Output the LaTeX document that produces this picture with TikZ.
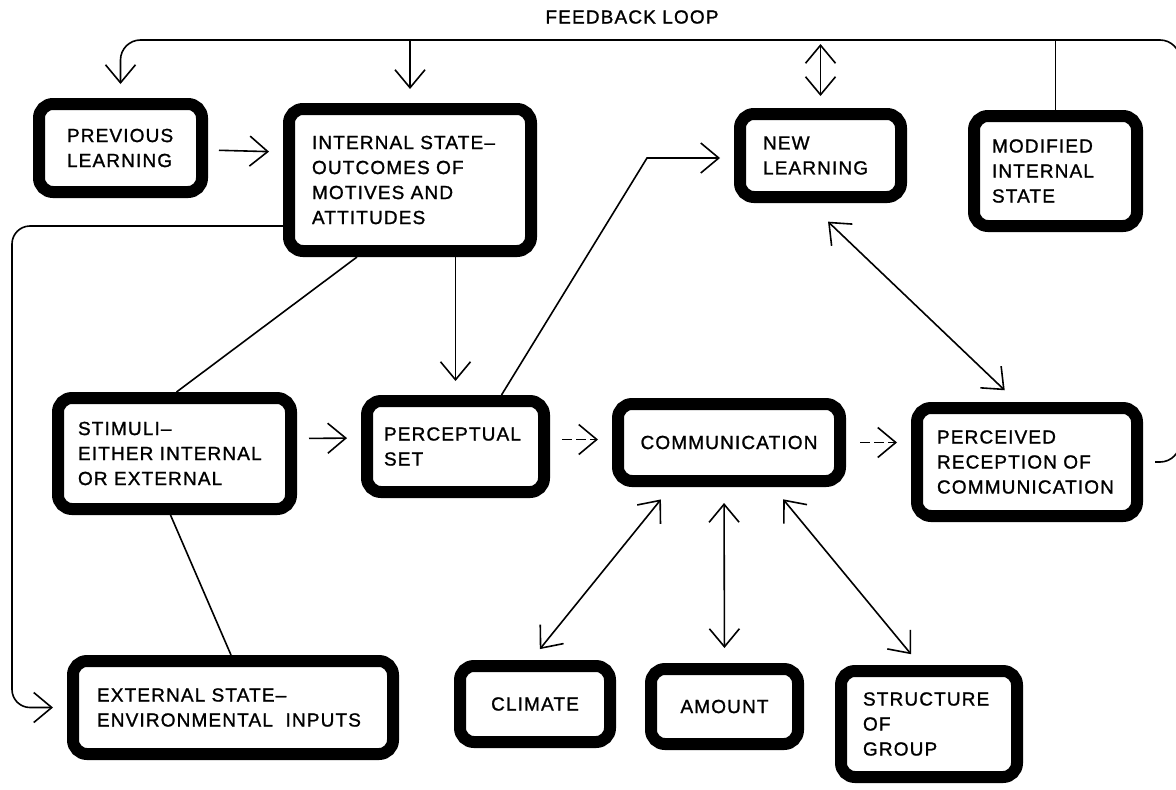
\documentclass[tikz,border=0pt]{standalone}
\usepackage{fontspec}
\setmainfont{Liberation Sans}[LetterSpace=6,FakeBold=1.2]
\usetikzlibrary{arrows.meta,calc}
\tikzset{barb/.tip={Straight Barb[length=18pt,width=30pt]}}
\begin{document}
\begin{tikzpicture}[x=1pt,y=-1pt,
  lbl/.style={font=\fontsize{19}{25}\selectfont},
  box/.style={lbl, draw, line width=12pt, rounded corners=14pt, align=left, inner ysep=0pt},
  cbox/.style={box, align=center, inner xsep=0pt},
  conn/.style={line width=1.6pt},
  arr/.style={conn, -barb, shorten >=14pt},
  dbl/.style={conn, barb-barb, shorten >=14pt, shorten <=14pt},
  brk/.style={dash pattern=on 10pt off 4pt}
]
\useasboundingbox (0,0) rectangle (1176,790);
\clip (0,0) rectangle (1176,790);

% boxes
\node[box, inner xsep=28pt, text width=107pt, minimum height=88pt] (prev) at (120.5,148)
  {PREVIOUS\\LEARNING};
\node[box, inner xsep=23pt, text width=196pt, minimum height=142pt] (internal) at (410,180)
  {INTERNAL STATE--\\OUTCOMES OF\\MOTIVES AND\\ATTITUDES};
\node[box, inner xsep=23pt, text width=115pt, minimum height=83pt] (newl) at (820.5,155.5)
  {NEW\\LEARNING};
\node[box, inner xsep=18pt, text width=127pt, minimum height=110pt] (modified) at (1055.5,171)
  {MODIFIED\\INTERNAL\\STATE};
\node[box, inner xsep=20pt, text width=193pt, minimum height=111pt] (stimuli) at (174.5,453.5)
  {STIMULI--\\EITHER INTERNAL\\OR EXTERNAL};
\node[box, inner xsep=17pt, text width=143pt, minimum height=91pt] (percep) at (455.5,446.5)
  {PERCEPTUAL\\SET};
\node[cbox, minimum width=222pt, minimum height=77pt] (comm) at (729,442.5)
  {COMMUNICATION};
\node[box, inner xsep=20pt, text width=180pt, minimum height=108pt] (perceived) at (1027,462)
  {PERCEIVED\\RECEPTION OF\\COMMUNICATION};
\node[box, inner xsep=24pt, text width=272pt, minimum height=93pt] (external) at (233,707.5)
  {EXTERNAL STATE--\\ENVIRONMENTAL\ \ INPUTS};
\node[cbox, minimum width=150pt, minimum height=76pt] (climate) at (535,704)
  {CLIMATE};
\node[cbox, minimum width=147pt, minimum height=75pt] (amount) at (724.5,706.5)
  {AMOUNT};
\node[box, inner xsep=22pt, text width=132pt, minimum height=106pt] (structure) at (929,724)
  {STRUCTURE\\OF\\GROUP};

\node[lbl] (fblabel) at (632,17) {FEEDBACK LOOP};

% feedback loop along the top
\coordinate (fbR) at (1180,40);
\draw[arr, shorten <=12pt, rounded corners=20pt] (perceived.east) -| (fbR) -| (prev.north);
\draw[arr] (internal.north |- fbR) -- (internal.north);
\draw[conn, barb-barb, shorten <=4pt, shorten >=12pt] (newl.north |- fbR) -- (newl.north);
\draw[conn] (modified.north |- fbR) -- (modified.north);

% left return to the external state
\coordinate (lx) at (12,0);
\draw[arr, rounded corners=18pt] ($(internal.west)+(0,46)$) -| (lx |- external.west) -- (external.west);

% main chain
\draw[arr, shorten <=11pt] ($(prev.east)+(0,2)$) -- ($(internal.west)+(0,-28)$);
\draw[arr] (internal.south -| percep.north) -- (percep.north);
\draw[conn] ($(internal.south)+(-53,0)$) -- ($(stimuli.north)+(2,0)$);
\draw[conn] ($(stimuli.south)+(-4,0)$) -- ($(external.north)+(-2,0)$);
\draw[arr, shorten <=12pt] ($(stimuli.east)+(0,-15)$) -- ($(percep.west)+(0,-8.5)$);
\draw[arr, brk, shorten <=12pt] ($(percep.east)+(0,-7)$) -- ($(comm.west)+(0,-3)$);
\draw[arr, brk, shorten <=14pt] (comm.east) -- (comm.east -| perceived.west);

% perceptual set to new learning
\coordinate (nlbend) at (647,158);
\draw[arr] ($(percep.north)+(46,0)$) -- (nlbend) -- (newl.west |- nlbend);

% new learning and perceived reception
\draw[conn, barb-barb, shorten <=27pt, shorten >=17pt] ($(newl.south)+(-12,0)$) -- ($(perceived.north)+(-10,0)$);

% group factors around communication
\draw[conn, barb-barb, shorten <=16pt, shorten >=14pt] ($(comm.south)+(-58,0)$) -- ($(climate.north)+(-4,0)$);
\draw[conn, barb-barb, shorten <=16pt, shorten >=15pt] ($(comm.south)+(-5,0)$) -- (amount.north);
\draw[conn, barb-barb, shorten <=16pt, shorten >=14pt] ($(comm.south)+(44,0)$) -- ($(structure.north)+(-9,0)$);
\end{tikzpicture}
\end{document}
